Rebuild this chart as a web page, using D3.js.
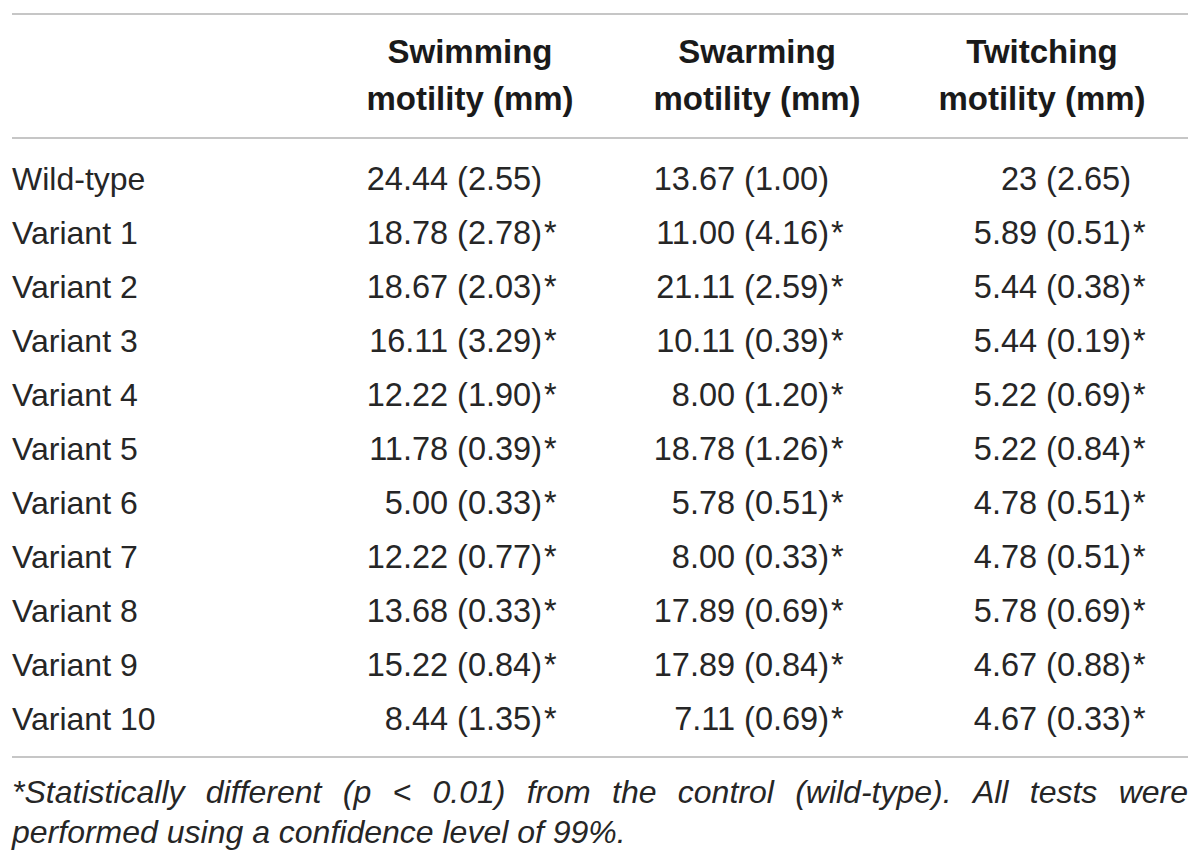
<!DOCTYPE html>
<html>
<head>
<meta charset="utf-8">
<script src="https://cdn.jsdelivr.net/npm/d3@7"></script>
<style>
    body { margin: 0; background: #fff; }
    svg text { font-family: "Liberation Sans", Arial, Helvetica, sans-serif; fill: #262626; }
    .head { font-weight: bold; font-size: 33px; fill: #1a1a1a; }
    .label { font-size: 32px; }
    .cell { font-size: 32.5px; }
    .note { font-size: 32px; font-style: italic; }
</style>
</head>
<body>
<svg id="table" width="1200" height="865"></svg>
<script>
const STRAINS = ['Wild-type', 'Variant 1', 'Variant 2', 'Variant 3', 'Variant 4', 'Variant 5',
    'Variant 6', 'Variant 7', 'Variant 8', 'Variant 9', 'Variant 10']
const COLUMN_TITLES = ['Swimming', 'Swarming', 'Twitching']
const COLUMN_UNITS = ['motility (mm)', 'motility (mm)', 'motility (mm)']
const SWIMMING = ['24.44 (2.55)', '18.78 (2.78)*', '18.67 (2.03)*', '16.11 (3.29)*', '12.22 (1.90)*',
    '11.78 (0.39)*', '5.00 (0.33)*', '12.22 (0.77)*', '13.68 (0.33)*', '15.22 (0.84)*', '8.44 (1.35)*']
const SWARMING = ['13.67 (1.00)', '11.00 (4.16)*', '21.11 (2.59)*', '10.11 (0.39)*', '8.00 (1.20)*',
    '18.78 (1.26)*', '5.78 (0.51)*', '8.00 (0.33)*', '17.89 (0.69)*', '17.89 (0.84)*', '7.11 (0.69)*']
const TWITCHING = ['23 (2.65)', '5.89 (0.51)*', '5.44 (0.38)*', '5.44 (0.19)*', '5.22 (0.69)*',
    '5.22 (0.84)*', '4.78 (0.51)*', '4.78 (0.51)*', '5.78 (0.69)*', '4.67 (0.88)*', '4.67 (0.33)*']
const FOOTNOTE = ['*Statistically different (p < 0.01) from the control (wild-type). All tests were',
    'performed using a confidence level of 99%.']

document.addEventListener('DOMContentLoaded', () => {

    const svg = d3.select('#table')
    const LEFT = 12
    const RIGHT = 1188

    const columns = [SWIMMING, SWARMING, TWITCHING]

    // header centre and closing-paren position of each column
    const headX = d3.scaleOrdinal().domain(COLUMN_TITLES).range([470, 757, 1042])
    const parenX = d3.scaleOrdinal().domain(COLUMN_TITLES).range([542, 829, 1131])

    const rowY = d3.scalePoint()
        .domain(STRAINS)
        .range([190, 730])

    const rule = (y) => {
        svg.append('line')
            .attr('x1', LEFT).attr('x2', RIGHT)
            .attr('y1', y).attr('y2', y)
            .attr('stroke', '#c6c6c6')
            .attr('stroke-width', 2)
    }
    rule(14)
    rule(138)
    rule(757)

    // header
    let head = svg.selectAll('.head-g')
        .data(COLUMN_TITLES)
        .enter().append('g')
        .attr('class', 'head-g')

    head.append('text')
        .attr('class', 'head')
        .attr('x', (d) => headX(d))
        .attr('y', 63)
        .attr('text-anchor', 'middle')
        .text((d) => d)

    head.append('text')
        .attr('class', 'head')
        .attr('x', (d) => headX(d))
        .attr('y', 110)
        .attr('text-anchor', 'middle')
        .text((d, i) => COLUMN_UNITS[i])

    // row labels
    svg.selectAll('.label')
        .data(STRAINS)
        .enter().append('text')
        .attr('class', 'label')
        .attr('x', LEFT)
        .attr('y', (d) => rowY(d))
        .text((d) => d)

    // cells: right aligned on the ')' with the asterisk hanging after it
    columns.forEach((values, c) => {
        let x = parenX(COLUMN_TITLES[c])
        let cells = svg.append('g')
            .selectAll('g')
            .data(values.map((v, i) => ({ text: v, strain: STRAINS[i] })))
            .enter().append('g')

        cells.append('text')
            .attr('class', 'cell')
            .attr('x', x)
            .attr('y', (d) => rowY(d.strain))
            .attr('text-anchor', 'end')
            .text((d) => d.text.replace('*', ''))

        cells.filter((d) => d.text.endsWith('*'))
            .append('text')
            .attr('class', 'cell')
            .attr('x', x + 2)
            .attr('y', (d) => rowY(d.strain))
            .text('*')
    })

    // footnote, first line justified word by word
    const noteY = [803, 843]
    FOOTNOTE.forEach((line, li) => {
        if (li === FOOTNOTE.length - 1) {
            svg.append('text')
                .attr('class', 'note')
                .attr('x', LEFT)
                .attr('y', noteY[li])
                .text(line)
            return
        }
        let words = line.split(' ')
        let nodes = words.map((w) => svg.append('text')
            .attr('class', 'note')
            .attr('y', noteY[li])
            .text(w))
        let widths = nodes.map((n) => n.node().getComputedTextLength())
        let gap = (RIGHT - LEFT - d3.sum(widths)) / (words.length - 1)
        let x = LEFT
        nodes.forEach((n, i) => {
            n.attr('x', x)
            x += widths[i] + gap
        })
    })
})
</script>
</body>
</html>
